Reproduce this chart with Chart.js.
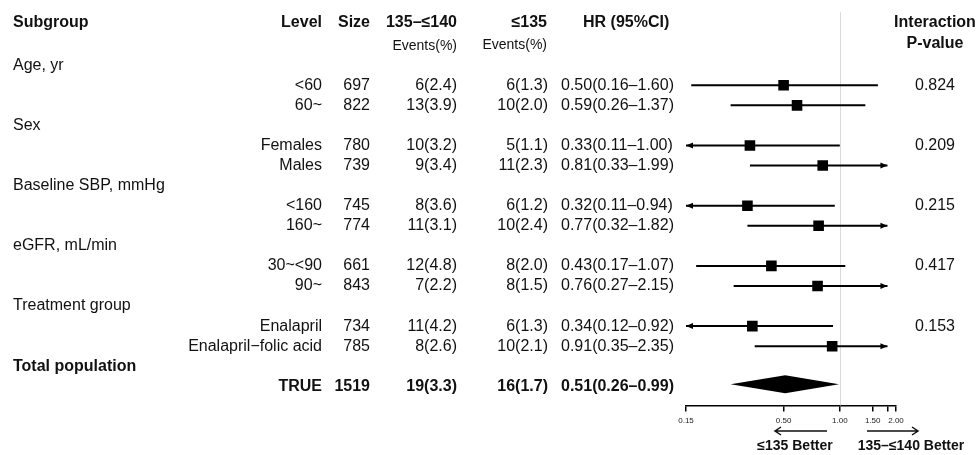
<!DOCTYPE html>
<html>
<head>
<meta charset="utf-8">
<script src="https://cdn.jsdelivr.net/npm/chart.js@4.4.1/dist/chart.umd.min.js"></script>
<style>
  html, body { margin: 0; padding: 0; background: #fff; }
  #forest { display: block; }
</style>
</head>
<body>
<canvas id="forest" width="980" height="455"></canvas>
<script>
// subgroup headings and the two levels under each
var groups = ["Age, yr", "Sex", "Baseline SBP, mmHg", "eGFR, mL/min", "Treatment group"];
var levels = ["<60", "60~", "Females", "Males", "<160", "160~", "30~<90", "90~", "Enalapril", "Enalapril\u2212folic acid"];
var sizes = [697, 822, 780, 739, 745, 774, 661, 843, 734, 785];
var eventsHigh = ["6(2.4)", "13(3.9)", "10(3.2)", "9(3.4)", "8(3.6)", "11(3.1)", "12(4.8)", "7(2.2)", "11(4.2)", "8(2.6)"];
var eventsLow = ["6(1.3)", "10(2.0)", "5(1.1)", "11(2.3)", "6(1.2)", "10(2.4)", "8(2.0)", "8(1.5)", "6(1.3)", "10(2.1)"];
var hr = [0.50, 0.59, 0.33, 0.81, 0.32, 0.77, 0.43, 0.76, 0.34, 0.91];
var hrLow = [0.16, 0.26, 0.11, 0.33, 0.11, 0.32, 0.17, 0.27, 0.12, 0.35];
var hrHigh = [1.60, 1.37, 1.00, 1.99, 0.94, 1.82, 1.07, 2.15, 0.92, 2.35];
var pInteraction = ["0.824", "0.209", "0.215", "0.417", "0.153"];

// overall row
var totalGroup = "Total population";
var totalLevel = "TRUE";
var totalSize = 1519;
var totalEventsHigh = "19(3.3)";
var totalEventsLow = "16(1.7)";
var totalHr = [0.51, 0.26, 0.99];   // estimate, low, high

var xTicks = [0.15, 0.5, 1, 1.5, 1.8, 2];
var xTickLabels = ["0.15", "0.50", "1.00", "1.50", "", "2.00"];
var CLIP_LO = 0.15, CLIP_HI = 1.8;

var FONT = '"Liberation Sans", Arial, sans-serif';

function levelRow(i) { return Math.floor(i / 2) * 3 + 1 + (i % 2); }
function fmt(v) { return v.toFixed(2); }
function hrText(e, lo, hi) { return fmt(e) + "(" + fmt(lo) + "\u2013" + fmt(hi) + ")"; }

// one short line dataset per CI, clipped to the axis range
var ciSets = hr.map(function (v, i) {
    var r = levelRow(i);
    return {
        type: 'line',
        data: [{ x: Math.max(hrLow[i], CLIP_LO), y: r }, { x: Math.min(hrHigh[i], CLIP_HI), y: r }],
        borderColor: '#000',
        borderWidth: 2,
        pointRadius: 0,
        fill: false
    };
});

var pointSet = {
    type: 'scatter',
    data: hr.map(function (v, i) { return { x: v, y: levelRow(i) }; }),
    pointStyle: 'rect',
    pointRadius: 7.5,
    backgroundColor: '#000',
    borderWidth: 0
};

function txt(ctx, s, x, y, align, font) {
    ctx.font = font;
    ctx.textAlign = align;
    ctx.fillText(s, x, y);
}

function arrowHead(ctx, x, y, dir) {
    ctx.beginPath();
    ctx.moveTo(x, y);
    ctx.lineTo(x - dir * 7, y - 3);
    ctx.lineTo(x - dir * 7, y + 3);
    ctx.closePath();
    ctx.fill();
}

var forestPlugin = {
    id: 'forestTable',
    beforeDatasetsDraw: function (chart) {
        var ctx = chart.ctx, area = chart.chartArea;
        var px = Math.round(chart.scales.x.getPixelForValue(1)) + 0.5;
        ctx.save();
        ctx.strokeStyle = '#dadada';
        ctx.lineWidth = 1;
        ctx.beginPath();
        ctx.moveTo(px, area.top);
        ctx.lineTo(px, area.bottom);
        ctx.stroke();
        ctx.restore();
    },
    afterDatasetsDraw: function (chart) {
        var ctx = chart.ctx, xs = chart.scales.x, ys = chart.scales.y;
        ctx.save();
        ctx.fillStyle = '#000';
        hr.forEach(function (v, i) {
            var y = ys.getPixelForValue(levelRow(i));
            if (hrLow[i] < CLIP_LO) arrowHead(ctx, xs.getPixelForValue(CLIP_LO), y, -1);
            if (hrHigh[i] > CLIP_HI) arrowHead(ctx, xs.getPixelForValue(CLIP_HI), y, 1);
        });
        // summary diamond
        var dy = ys.getPixelForValue(16) - 2;
        ctx.beginPath();
        ctx.moveTo(xs.getPixelForValue(totalHr[1]), dy);
        ctx.lineTo(xs.getPixelForValue(totalHr[0]), dy - 9);
        ctx.lineTo(xs.getPixelForValue(totalHr[2]), dy);
        ctx.lineTo(xs.getPixelForValue(totalHr[0]), dy + 9);
        ctx.closePath();
        ctx.fill();
        ctx.restore();
    },
    afterDraw: function (chart) {
        var ctx = chart.ctx, ys = chart.scales.y;
        var reg = '16px ' + FONT, bold = 'bold 16px ' + FONT, small = '14px ' + FONT;
        ctx.save();
        ctx.fillStyle = '#111';
        ctx.textBaseline = 'middle';

        // header
        txt(ctx, "Subgroup", 13, 23, 'left', bold);
        txt(ctx, "Level", 322, 23, 'right', bold);
        txt(ctx, "Size", 370, 23, 'right', bold);
        txt(ctx, "135\u2013\u2264140", 457, 23, 'right', bold);
        txt(ctx, "Events(%)", 457, 46, 'right', small);
        txt(ctx, "\u2264135", 547, 23, 'right', bold);
        txt(ctx, "Events(%)", 547, 45, 'right', small);
        txt(ctx, "HR (95%CI)", 583, 23, 'left', bold);
        txt(ctx, "Interaction", 935, 23, 'center', bold);
        txt(ctx, "P-value", 935, 44, 'center', bold);

        groups.forEach(function (g, k) {
            txt(ctx, g, 13, ys.getPixelForValue(k * 3), 'left', reg);
            txt(ctx, pInteraction[k], 935, ys.getPixelForValue(k * 3 + 1), 'center', reg);
        });
        levels.forEach(function (l, i) {
            var y = ys.getPixelForValue(levelRow(i));
            txt(ctx, l, 322, y, 'right', reg);
            txt(ctx, String(sizes[i]), 370, y, 'right', reg);
            txt(ctx, eventsHigh[i], 457, y, 'right', reg);
            txt(ctx, eventsLow[i], 548, y, 'right', reg);
            txt(ctx, hrText(hr[i], hrLow[i], hrHigh[i]), 561, y, 'left', reg);
        });

        var ty = ys.getPixelForValue(16);
        txt(ctx, totalGroup, 13, ys.getPixelForValue(15), 'left', bold);
        txt(ctx, totalLevel, 322, ty, 'right', bold);
        txt(ctx, String(totalSize), 370, ty, 'right', bold);
        txt(ctx, totalEventsHigh, 457, ty, 'right', bold);
        txt(ctx, totalEventsLow, 548, ty, 'right', bold);
        txt(ctx, hrText(totalHr[0], totalHr[1], totalHr[2]), 561, ty, 'left', bold);

        // direction arrows under the axis
        ctx.strokeStyle = '#111';
        ctx.lineWidth = 1.5;
        ctx.beginPath();
        ctx.moveTo(827, 431); ctx.lineTo(775, 431);
        ctx.moveTo(781, 427); ctx.lineTo(775, 431); ctx.lineTo(781, 435);
        ctx.moveTo(867, 431); ctx.lineTo(918, 431);
        ctx.moveTo(912, 427); ctx.lineTo(918, 431); ctx.lineTo(912, 435);
        ctx.stroke();
        txt(ctx, "\u2264135 Better", 795, 446, 'center', 'bold 14px ' + FONT);
        txt(ctx, "135\u2013\u2264140 Better", 911, 446, 'center', 'bold 14px ' + FONT);
        ctx.restore();
    }
};

var ctx = document.getElementById('forest').getContext('2d');
new Chart(ctx, {
    type: 'scatter',
    data: { datasets: ciSets.concat([pointSet]) },
    options: {
        responsive: false,
        animation: false,
        devicePixelRatio: 1,
        events: [],
        layout: { padding: { left: 686, right: 84, top: 12, bottom: 24 } },
        plugins: { legend: { display: false }, tooltip: { enabled: false } },
        scales: {
            x: {
                type: 'logarithmic',
                min: 0.15,
                max: 2,
                afterBuildTicks: function (scale) {
                    scale.ticks = xTicks.map(function (v) { return { value: v }; });
                },
                grid: { drawOnChartArea: false, drawTicks: true, tickLength: 6, color: '#000', lineWidth: 1.5 },
                border: { display: true, color: '#000', width: 1.5 },
                ticks: {
                    autoSkip: false,
                    maxRotation: 0,
                    padding: 5,
                    color: '#222',
                    font: { family: FONT, size: 8 },
                    callback: function (v) {
                        var k = xTicks.indexOf(v);
                        return k >= 0 ? xTickLabels[k] : '';
                    }
                }
            },
            y: {
                type: 'linear',
                display: false,
                reverse: true,
                min: -2.65,
                max: 16.95
            }
        }
    },
    plugins: [forestPlugin]
});
</script>
</body>
</html>
